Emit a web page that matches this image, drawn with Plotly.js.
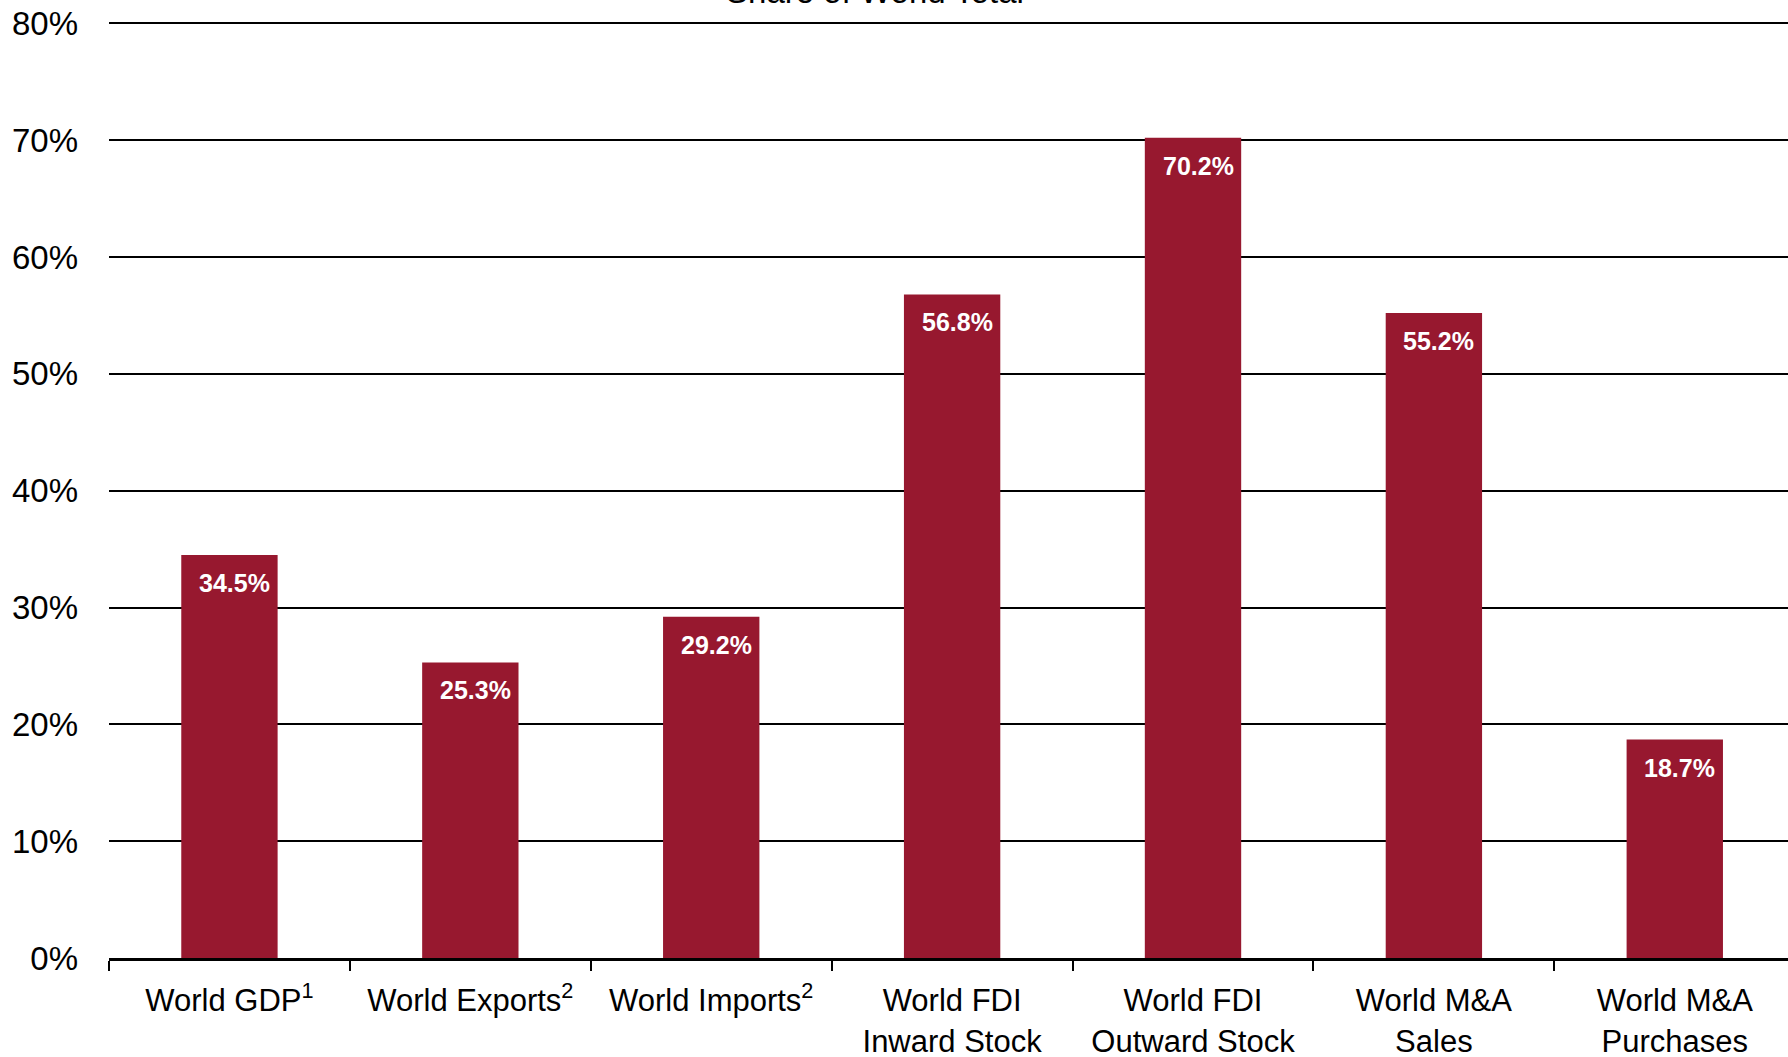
<!DOCTYPE html>
<html>
<head>
<meta charset="utf-8">
<script src="https://cdn.plot.ly/plotly-3.0.1.min.js"></script>
<style>html,body{margin:0;padding:0;background:#fff;}#chart{width:1788px;height:1057px;}</style>
</head>
<body>
<div id="chart"></div>
<script>
const categories = [
  'World GDP<sup>1</sup>',
  'World Exports<sup>2</sup>',
  'World Imports<sup>2</sup>',
  'World FDI<br>Inward Stock',
  'World FDI<br>Outward Stock',
  'World M&amp;A<br>Sales',
  'World M&amp;A<br>Purchases'
];
const shares = [34.5, 25.3, 29.2, 56.8, 70.2, 55.2, 18.7];
const valueLabels = ['34.5%', '25.3%', '29.2%', '56.8%', '70.2%', '55.2%', '18.7%'];
const yTickVals = [0, 10, 20, 30, 40, 50, 60, 70, 80];
const titleText = 'Share of World Total';

const FONT = '"Liberation Sans", Arial, Helvetica, sans-serif';
const BAR = '#97182F';

const trace = {
  type: 'bar',
  x: categories,
  y: shares,
  width: 0.4,
  marker: {color: BAR, line: {width: 0}},
  hoverinfo: 'skip'
};

const annotations = categories.map((c, i) => ({
  x: c, y: shares[i], xref: 'x', yref: 'y',
  text: '<b>' + valueLabels[i] + '</b>',
  showarrow: false, yanchor: 'top', xanchor: 'center',
  yshift: -12, xshift: 5,
  font: {family: FONT, size: 25, color: '#ffffff'}
}));

const layout = {
  width: 1788, height: 1057,
  margin: {l: 109, r: 0, t: 21, b: 99, pad: 0},
  paper_bgcolor: '#ffffff', plot_bgcolor: '#ffffff',
  showlegend: false,
  font: {family: FONT, color: '#000000'},
  title: {
    text: titleText,
    font: {family: FONT, size: 33, color: '#000000'},
    x: 875 / 1788, xref: 'container', xanchor: 'center',
    y: 1 - 3 / 1057, yref: 'container', yanchor: 'bottom'
  },
  xaxis: {
    type: 'category',
    range: [-0.5, 6.47],
    tickson: 'boundaries',
    ticks: 'outside', ticklen: 10, tickwidth: 2, tickcolor: '#000000',
    showline: true, linecolor: '#000000', linewidth: 3,
    showgrid: false, zeroline: false,
    tickfont: {family: FONT, size: 31, color: '#000000'},
    ticklabelstandoff: 13,
    fixedrange: true
  },
  yaxis: {
    range: [0, 80.2],
    tickvals: yTickVals,
    ticktext: yTickVals.map(v => v + '%'),
    ticks: '', showline: false, zeroline: false,
    showgrid: true, gridcolor: '#000000', gridwidth: 2,
    tickfont: {family: FONT, size: 33, color: '#000000'},
    ticklabelstandoff: 30,
    fixedrange: true
  },
  annotations: annotations
};

Plotly.newPlot('chart', [trace], layout, {displayModeBar: false, staticPlot: true});
</script>
</body>
</html>
